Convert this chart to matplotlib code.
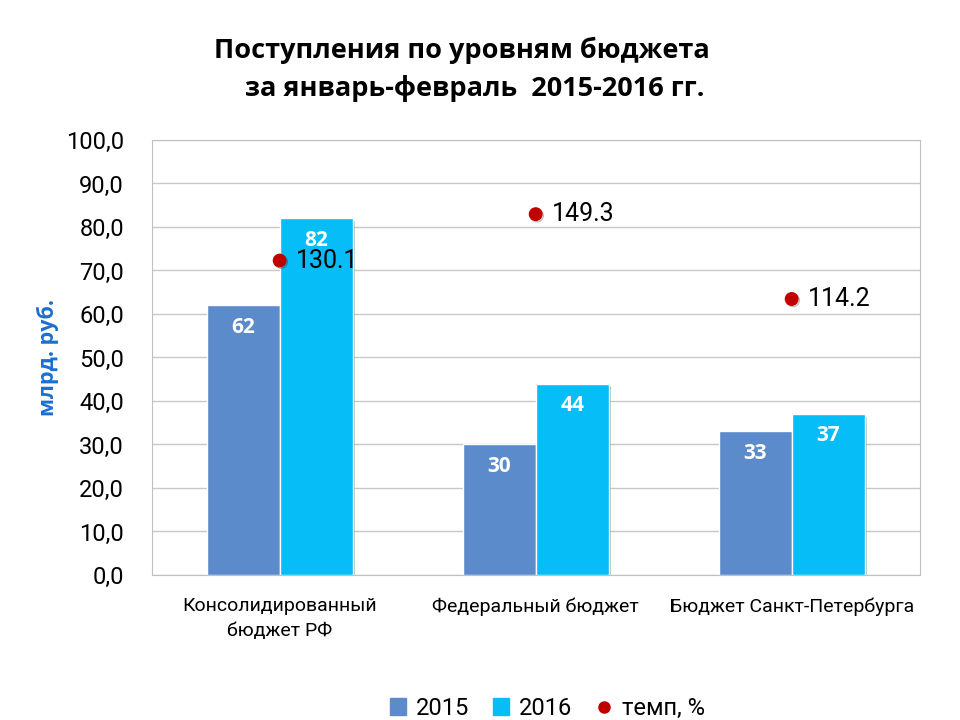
import numpy as np
import matplotlib
matplotlib.use('Agg')
import matplotlib.pyplot as plt
import matplotlib.patheffects as pe
from matplotlib.lines import Line2D
from matplotlib.patches import Patch

# data
categories = ['Консолидированный\nбюджет РФ', 'Федеральный бюджет', 'Бюджет Санкт-Петербурга']
v2015 = [62, 30, 33]
v2016 = [82, 44, 37]
tempo = [130.1, 149.3, 114.2]
yticks = [0, 10, 20, 30, 40, 50, 60, 70, 80, 90, 100]

c2015 = '#5B8BCB'
c2016 = '#07BDF7'
cdot = '#C00000'
narrow = ['Roboto', 'DejaVu Sans']

fig = plt.figure(figsize=(9.6, 7.2), dpi=100)
ax = fig.add_axes([0.158, 0.2014, 0.8, 0.6042])

x = np.arange(len(categories))
w = 0.285
shadow = [pe.SimplePatchShadow(offset=(2, -2), alpha=0.3), pe.Normal()]
b1 = ax.bar(x - w / 2, v2015, w, color=c2015, edgecolor='white', linewidth=1.0, zorder=3)
b2 = ax.bar(x + w / 2, v2016, w, color=c2016, edgecolor='white', linewidth=1.0, zorder=3)
for b in list(b1) + list(b2):
    b.set_path_effects(shadow)

for xi, v in zip(x - w / 2, v2015):
    ax.text(xi, v - 2.6, str(v), ha='center', va='top', color='white', fontsize=15,
            fontweight='bold', family='Open Sans', zorder=5)
for xi, v in zip(x + w / 2, v2016):
    ax.text(xi, v - 2.6, str(v), ha='center', va='top', color='white', fontsize=15,
            fontweight='bold', family='Open Sans', zorder=5)

ax.set_xlim(-0.5, 2.5)
ax.set_ylim(0, 100)
ax.set_yticks(yticks)
ax.set_yticklabels(['%d,0' % t for t in yticks], family=narrow, fontsize=17)
ax.set_xticks(x)
ax.set_xticklabels(categories, family=narrow, fontsize=14, linespacing=1.45)
ax.tick_params(axis='x', length=0, pad=16)
ax.tick_params(axis='y', length=0, pad=20)
ax.grid(axis='y', color='#C8C8C8', linewidth=1.0, zorder=0)
for s in ax.spines.values():
    s.set_color('#C0C0C0')
ax.set_ylabel('млрд. руб.', color='#1A6FD0', fontsize=15.5, fontweight='bold',
              family='Open Sans')
ax.yaxis.set_label_coords(-0.121, 0.5)

# tempo on hidden secondary axis
ax2 = ax.twinx()
ax2.set_ylim(0, 180)
ax2.axis('off')
ax2.plot(x, tempo, 'o', color=cdot, markersize=9, zorder=6,
         path_effects=[pe.SimpleLineShadow(offset=(1, -1), alpha=0.25), pe.Normal()])
for xi, t in zip(x, tempo):
    ax2.text(xi + 0.065, t, '%.1f' % t, ha='left', va='center', fontsize=18,
             family=narrow, color='black', zorder=7)

fig.text(0.481, 0.93, 'Поступления по уровням бюджета', ha='center', va='center',
         fontsize=19.5, fontweight='bold', family='Open Sans')
fig.text(0.494, 0.877, 'за январь-февраль  2015-2016 гг.', ha='center', va='center',
         fontsize=19.5, fontweight='bold', family='Open Sans')

handles = [Patch(color=c2015, label='2015'), Patch(color=c2016, label='2016'),
           Line2D([], [], marker='o', linestyle='none', color=cdot, markersize=8, label='темп, %')]
fig.legend(handles=handles, loc='center', bbox_to_anchor=(0.57, 0.016), ncol=3, frameon=False,
           prop={'family': narrow, 'size': 17}, handlelength=0.7,
           handleheight=0.7, handletextpad=0.4, columnspacing=1.0)

fig.savefig('out.png', dpi=100)
